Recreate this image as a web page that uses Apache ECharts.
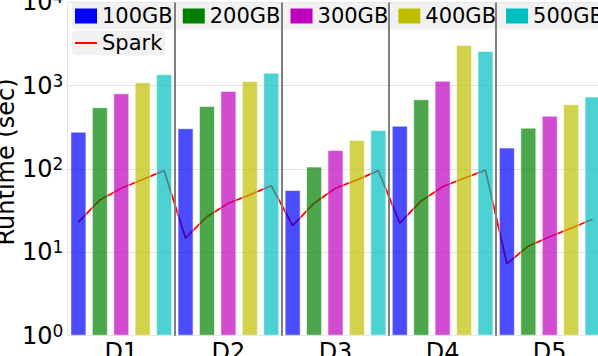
<!DOCTYPE html>
<html>
<head>
<meta charset="utf-8">
<script src="https://cdn.jsdelivr.net/npm/echarts@6/dist/echarts.min.js"></script>
<style>
html,body{margin:0;padding:0;background:#fff;}
#c{width:598px;height:356px;}
</style>
</head>
<body>
<div id="c"></div>
<script>
// ---- data ----
var categories = ['D1', 'D2', 'D3', 'D4', 'D5'];
var sizeNames = ['100GB', '200GB', '300GB', '400GB', '500GB'];
var runtime100 = [281, 309, 56, 332, 181];
var runtime200 = [552, 572, 107, 688, 314];
var runtime300 = [812, 866, 169, 1151, 437];
var runtime400 = [1101, 1142, 223, 3090, 600];
var runtime500 = [1374, 1436, 294, 2618, 740];
var sparkD1 = [23, 42.6, 58.8, 75, 95.7];
var sparkD2 = [14.8, 26.8, 38.9, 49, 63];
var sparkD3 = [21, 38.9, 58.8, 74, 95.7];
var sparkD4 = [22.4, 41.5, 61.5, 77.6, 97];
var sparkD5 = [7.3, 11.9, 15.4, 19.5, 25];
var yTickExponents = [0, 1, 2, 3, 4];

// ---- styles ----
var solidColors = ['#0000ff', '#008000', '#bf00bf', '#bfbf00', '#00bfbf'];
var barColors = ['rgba(0,0,255,0.7)', 'rgba(0,128,0,0.7)', 'rgba(191,0,191,0.7)', 'rgba(191,191,0,0.7)', 'rgba(0,191,191,0.7)'];
var FONT = 'DejaVu Sans';

var barValues = [runtime100, runtime200, runtime300, runtime400, runtime500];
var sparkGroups = [sparkD1, sparkD2, sparkD3, sparkD4, sparkD5];
var perGroup = sizeNames.length;
var sparkData = [];
sparkGroups.forEach(function (g, gi) {
  g.forEach(function (v, j) { sparkData.push([gi * perGroup + j + 0.5, v]); });
});
var boundaries = [];
for (var i = 1; i < categories.length; i++) boundaries.push({ xAxis: i * perGroup });

var series = sizeNames.map(function (n, i) {
  return {
    name: n, type: 'bar', xAxisIndex: 0, yAxisIndex: 0,
    data: barValues[i], barWidth: 16, barGap: '33.9%', z: 3,
    itemStyle: { color: barColors[i], borderColor: 'rgba(255,255,255,0.55)', borderWidth: 1 },
    emphasis: { disabled: true }, silent: true
  };
});
series.push({
  name: 'Spark', type: 'line', xAxisIndex: 1, yAxisIndex: 0,
  data: sparkData, showSymbol: false, symbol: 'none', z: 2,
  color: '#ff0000',
  lineStyle: { color: '#ff0000', width: 1.8 },
  emphasis: { disabled: true }, silent: true,
  markLine: {
    silent: true, symbol: 'none', label: { show: false },
    lineStyle: { color: '#7f7f7f', width: 2, type: 'solid' },
    emphasis: { disabled: true },
    data: boundaries
  }
});

var chart = echarts.init(document.getElementById('c'), null, { renderer: 'svg' });
chart.setOption({
  animation: false,
  backgroundColor: '#ffffff',
  grid: { left: 67.7, top: 2.4, width: 535.6, height: 333.3, containLabel: false, outerBoundsMode: 'none' },
  legend: [
    {
      data: sizeNames.map(function (n, i) {
        return { name: n, icon: 'rect', itemStyle: { color: solidColors[i], borderWidth: 0, opacity: 1 } };
      }),
      left: 72, top: 2.5, orient: 'horizontal', width: 640,
      itemWidth: 22, itemHeight: 15, itemGap: 10,
      padding: [3, 3, 3, 3],
      backgroundColor: 'rgba(238,238,238,0.85)', borderRadius: 4,
      selectedMode: false,
      textStyle: { fontFamily: FONT, fontSize: 21, color: '#000' }
    },
    {
      data: [{ name: 'Spark', icon: 'rect', itemStyle: { color: '#ff0000', borderWidth: 0 } }],
      left: 72, top: 30.5,
      itemWidth: 22, itemHeight: 2, itemGap: 10,
      padding: [2, 3, 2, 3],
      backgroundColor: 'rgba(238,238,238,0.85)', borderRadius: 4,
      selectedMode: false,
      textStyle: { fontFamily: FONT, fontSize: 21, color: '#000' }
    }
  ],
  xAxis: [
    {
      type: 'category', data: categories, gridIndex: 0,
      axisLine: { show: true, lineStyle: { color: '#e6e6e6', width: 1 } },
      axisTick: { show: false },
      axisLabel: { fontFamily: FONT, fontSize: 24, color: '#000', margin: 4 },
      splitLine: { show: false }
    },
    {
      type: 'value', gridIndex: 0, min: 0, max: categories.length * perGroup, show: false,
      splitLine: { show: false }
    }
  ],
  yAxis: {
    type: 'log', logBase: 10, min: Math.pow(10, yTickExponents[0]), max: Math.pow(10, yTickExponents[yTickExponents.length - 1]),
    axisLine: { show: true, lineStyle: { color: '#e6e6e6', width: 1 } },
    axisTick: { show: false },
    splitLine: { show: true, lineStyle: { color: '#e3e3e3', width: 1 } },
    axisLabel: {
      margin: 4.4, color: '#000',
      formatter: function (v) {
        var e = Math.round(Math.log10(v));
        return '{a|10}{b|' + e + '}';
      },
      rich: {
        a: { fontFamily: FONT, fontSize: 24, color: '#000' },
        b: { fontFamily: FONT, fontSize: 17, color: '#000', padding: [0, 0, 10, 0] }
      }
    }
  },
  graphic: [
    {
      type: 'text', x: 6.3, y: 162, rotation: Math.PI / 2, silent: true,
      style: { text: 'Runtime (sec)', fontFamily: FONT, fontSize: 24, fill: '#000', textAlign: 'center', textVerticalAlign: 'middle' }
    }
  ],
  series: series
});
</script>
</body>
</html>
